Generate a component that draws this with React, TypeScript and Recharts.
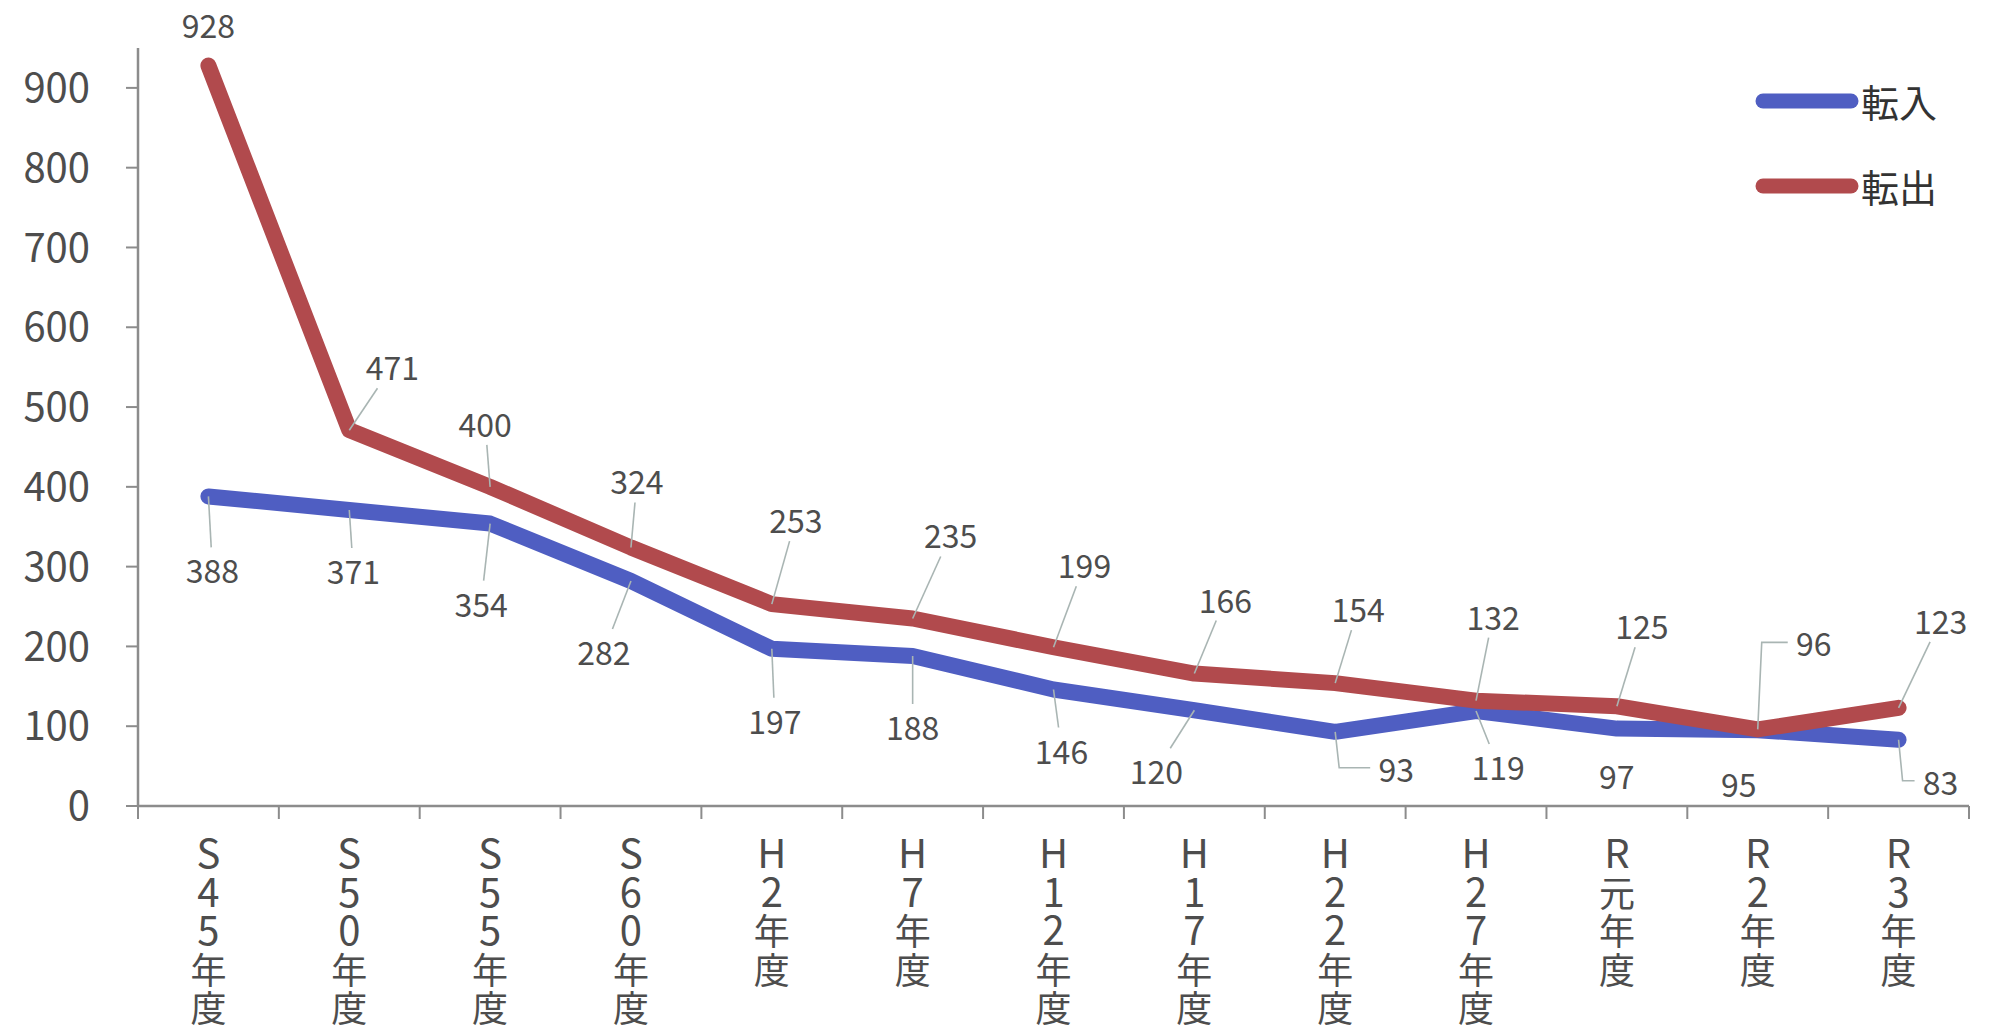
import React from 'react';
import { LineChart, Line, XAxis, YAxis, LabelList } from 'recharts';

// 年度
const categories = [
  'S45年度', 'S50年度', 'S55年度', 'S60年度', 'H2年度', 'H7年度', 'H12年度',
  'H17年度', 'H22年度', 'H27年度', 'R元年度', 'R2年度', 'R3年度',
];
const tennyu = [388, 371, 354, 282, 197, 188, 146, 120, 93, 119, 97, 95, 83];
const tenshutsu = [928, 471, 400, 324, 253, 235, 199, 166, 154, 132, 125, 96, 123];
const yTicks = [0, 100, 200, 300, 400, 500, 600, 700, 800, 900];

const data = categories.map((c, i) => ({ name: c, tennyu: tennyu[i], tenshutsu: tenshutsu[i] }));

// label offsets from the point (px)
const inOffsets = [
  [4, 73], [4, 60], [-9, 79], [-27, 70], [3, 71], [0, 70], [8, 60],
  [-38, 60], [61, 36], [22, 55], [0, 46], [-19, 53], [42, 41],
];
const outOffsets = [
  [0, -42], [43, -64], [-5, -64], [6, -67], [24, -85], [38, -84], [31, -83],
  [31, -75], [23, -75], [17, -85], [25, -81], [56, -87], [42, -88],
];
const inElbows = [8, 12];
const outElbows = [11];

const FONT = '"Noto Sans CJK JP", "Noto Sans", sans-serif';
const BLUE = '#4f5ec2';
const RED = '#b14a4d';
const AXIS = '#8c8c8c';
const TEXT = '#4d4d4d';
const LEADER = '#a9b5b3';

const series = [
  { key: 'tennyu', name: '転入', color: BLUE, offsets: inOffsets, elbows: inElbows },
  { key: 'tenshutsu', name: '転出', color: RED, offsets: outOffsets, elbows: outElbows },
];

const XTick = (props: any) => {
  const { x, y, payload, width, visibleTicksCount, index } = props;
  const band = width / visibleTicksCount;
  const chars = Array.from(String(payload.value));
  return (
    <g>
      <line x1={x - band / 2} y1={y} x2={x - band / 2} y2={y + 13} stroke={AXIS} strokeWidth={2} />
      {index === visibleTicksCount - 1 && (
        <line x1={x + band / 2} y1={y} x2={x + band / 2} y2={y + 13} stroke={AXIS} strokeWidth={2} />
      )}
      <text textAnchor="middle" fill={TEXT} fontFamily={FONT}>
        {chars.map((ch, i) => (
          <tspan key={i} x={x} y={y + 62 + i * 38.5} fontSize={/[A-Za-z0-9]/.test(ch) ? 40 : 36}>
            {ch}
          </tspan>
        ))}
      </text>
    </g>
  );
};

const makeLabel = (offsets: number[][], elbows: number[]) => (props: any) => {
  const { x, y, value, index } = props;
  const [dx, dy] = offsets[index];
  const lx = x + dx;
  const ly = y + dy;
  let leader: React.ReactNode = null;
  if (elbows.includes(index)) {
    leader = (
      <polyline
        points={`${x},${y} ${x + 4},${ly} ${lx - 26},${ly}`}
        fill="none"
        stroke={LEADER}
        strokeWidth={1.6}
      />
    );
  } else if (Math.hypot(dx, dy) > 58) {
    const f = 1 - 22 / Math.abs(dy);
    leader = <line x1={x} y1={y} x2={x + dx * f} y2={y + dy * f} stroke={LEADER} strokeWidth={1.6} />;
  }
  return (
    <g>
      {leader}
      <text
        x={lx}
        y={ly}
        textAnchor="middle"
        dominantBaseline="central"
        fill={TEXT}
        fontSize={32}
        fontFamily={FONT}
      >
        {value}
      </text>
    </g>
  );
};

const LegendBox = () => (
  <div style={{ position: 'absolute', left: 1755, top: 58, fontFamily: FONT }}>
    {series.map((s) => (
      <div key={s.key} style={{ display: 'flex', alignItems: 'center', height: 85 }}>
        <svg width={104} height={24}>
          <line x1={8} y1={12} x2={96} y2={12} stroke={s.color} strokeWidth={15} strokeLinecap="round" />
        </svg>
        <span style={{ fontSize: 38, color: '#333', marginLeft: 2 }}>{s.name}</span>
      </div>
    ))}
  </div>
);

export default function App() {
  return (
    <div style={{ position: 'absolute', left: 0, top: 0, width: 1996, height: 1032, background: '#fff' }}>
      <LineChart width={1996} height={1032} data={data} margin={{ top: 48, right: 27, bottom: 0, left: 0 }}>
        <XAxis
          dataKey="name"
          scale="band"
          height={226}
          interval={0}
          tickSize={0}
          tickMargin={0}
          tickLine={false}
          axisLine={{ stroke: AXIS, strokeWidth: 2.5 }}
          tick={<XTick />}
        />
        <YAxis
          width={138}
          domain={[0, 950]}
          ticks={yTicks}
          interval={0}
          tickSize={12}
          tickMargin={36}
          axisLine={{ stroke: AXIS, strokeWidth: 2.5 }}
          tickLine={{ stroke: AXIS, strokeWidth: 2 }}
          tick={{ fill: TEXT, fontSize: 40, fontFamily: FONT }}
        />
        {series.map((s) => (
          <Line
            key={s.key}
            dataKey={s.key}
            name={s.name}
            stroke={s.color}
            strokeWidth={16}
            strokeLinecap="round"
            strokeLinejoin="round"
            dot={false}
            isAnimationActive={false}
          >
            <LabelList dataKey={s.key} content={makeLabel(s.offsets, s.elbows)} />
          </Line>
        ))}
      </LineChart>
      <LegendBox />
    </div>
  );
}
